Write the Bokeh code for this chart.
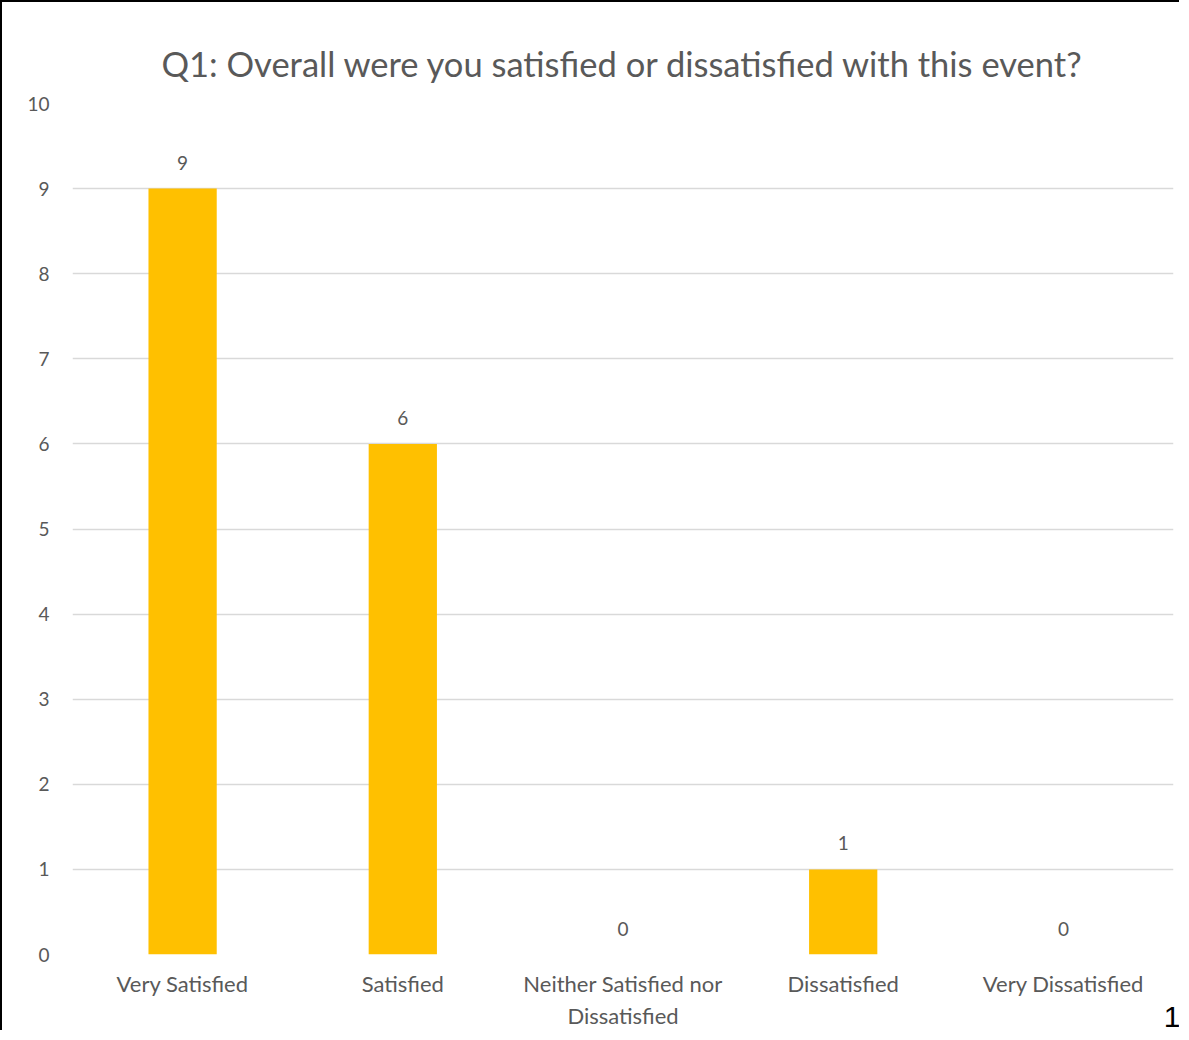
from bokeh.plotting import figure
from bokeh.models import ColumnDataSource, Range1d, FixedTicker, Title
from bokeh.core.properties import value
from bokeh.embed import file_html
from bokeh.resources import INLINE

categories = ["Very Satisfied", "Satisfied", "Neither Satisfied nor\nDissatisfied", "Dissatisfied", "Very Dissatisfied"]
counts = [9, 6, 0, 1, 0]
y_ticks = [0, 1, 2, 3, 4, 5, 6, 7, 8, 9, 10]
title_text = "Q1: Overall were you satisfied or dissatisfied with this event?"
page_number = "1"

FONT = "Lato"
GREY = "#595959"

src = ColumnDataSource(dict(cat=categories, val=counts, lab=[str(v) for v in counts]))

p = figure(x_range=categories, y_range=Range1d(0, 10), width=1179, height=1030,
           output_backend="svg", toolbar_location=None,
           min_border_left=70, min_border_right=8, min_border_top=101, min_border_bottom=78)
p.styles = {"border-left": "2px solid black", "border-top": "2px solid black"}
p.outline_line_color = None

p.title.text = title_text
p.title.align = "center"
p.title.offset = -10
p.title.text_font = FONT
p.title.text_font_size = "34.5px"
p.title.text_font_style = "normal"
p.title.text_color = GREY
p.title.standoff = 39

p.vbar(x="cat", top="val", width=0.31, source=src, fill_color="#FFC000", line_color=None)
p.text(x="cat", y="val", text="lab", source=src, text_align="center", text_baseline="alphabetic",
       y_offset=-26, text_font=value(FONT), text_font_size="19px", text_color=GREY)

p.xgrid.grid_line_color = None
p.ygrid.grid_line_color = "#d9d9d9"
p.ygrid.grid_line_width = 1.5
p.yaxis.ticker = FixedTicker(ticks=y_ticks)

for ax in (p.xaxis, p.yaxis):
    ax.axis_line_color = None
    ax.major_tick_line_color = None
    ax.minor_tick_line_color = None
    ax.major_label_text_font = FONT
    ax.major_label_text_color = GREY
p.xaxis.major_label_text_font_size = "22px"
p.yaxis.major_label_text_font_size = "19px"
p.xaxis.major_label_standoff = 9
p.yaxis.major_label_standoff = 17

page_title = Title(text=page_number, align="right", vertical_align="top", offset=-7, standoff=-50,
                   text_font="Liberation Sans", text_font_size="30px",
                   text_font_style="normal", text_color="black")
p.add_layout(page_title, "below")

open("out.html", "w").write(file_html(p, INLINE))
